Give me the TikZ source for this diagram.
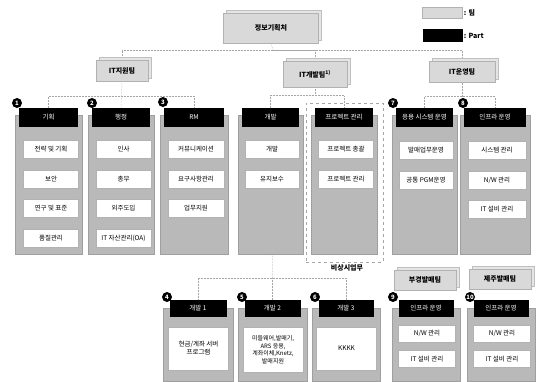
\documentclass[tikz,border=0pt]{standalone}
\usepackage{fontspec}
\setmainfont{Noto Sans CJK KR}
\usetikzlibrary{positioning,shadows,backgrounds}

\tikzset{
  team/.style={draw=gray!60, fill=gray!30, font=\fontsize{7}{8}\selectfont\bfseries,
    minimum height=21pt, inner sep=1pt,
    copy shadow={shadow xshift=3pt, shadow yshift=3pt, fill=gray!20, draw=gray!50}},
  part/.style={fill=black, text=white, font=\fontsize{6.5}{7.5}\selectfont,
    minimum height=19pt, inner sep=1pt},
  panel/.style={fill=gray!55, draw=gray!75, inner sep=0pt},
  task/.style={fill=white, draw=gray!60, font=\fontsize{6.5}{8}\selectfont,
    minimum height=18pt, inner sep=1pt, align=center},
  num/.style={circle, fill=black, text=white, font=\fontsize{6}{6}\selectfont\bfseries,
    inner sep=0pt, minimum size=10pt},
  conn/.style={densely dotted, gray!70, line width=0.5pt},
}

\begin{document}
\begin{tikzpicture}[x=1pt,y=-1pt]
\useasboundingbox (0,0) rectangle (540,381);

% teams
\node[team, minimum width=95pt, minimum height=30pt] (top) at (271,28) {정보기획처};
\node[team, minimum width=52pt] (sup) at (122,71) {IT지원팀};
\node[team, minimum width=64pt, minimum height=26pt] (dev) at (315,74) {IT개발팀\textsuperscript{1)}};
\node[team, minimum width=66pt] (ops) at (462,72) {IT운영팀};
\node[team, minimum width=62pt, minimum height=20pt] (busan) at (425,280) {부경발매팀};
\node[team, minimum width=62pt, minimum height=20pt] (jeju) at (500,279) {제주발매팀};

% legend
\node[fill=gray!30, draw=gray!60, minimum width=40pt, minimum height=11pt] (lg1) at (442.5,13) {};
\node[right, font=\fontsize{7}{8}\selectfont\bfseries, inner sep=1pt] at (lg1.east) {: 팀};
\node[fill=black, minimum width=40pt, minimum height=13pt] (lg2) at (442.5,35.5) {};
\node[right, font=\fontsize{7}{8}\selectfont\bfseries, inner sep=1pt] at (lg2.east) {: Part};

% parts, upper row
\foreach \c/\x/\w/\hd in {1/48.5/67/기획, 2/121/66/행정, 3/194/68/RM, 4/270.5/65/개발,
    5/344/66/프로젝트 관리, 6/424.5/65/응용 시스템 운영, 7/495/70/인프라 운영} {
  \node[panel, minimum width=\w pt, minimum height=139pt, anchor=north] (p\c) at (\x,115) {};
  \node[part, minimum width=\w pt-8pt] (h\c) at (\x,117.5) {\hd};
}
\foreach \t [count=\i] in {전략 및 기획, 보안, 연구 및 표준, 품질관리}
  \node[task, minimum width=55pt] (t1-\i) at (51,120+29.5*\i) {\t};
\foreach \t [count=\i] in {인사, 총무, 외주도입, IT 자산관리(OA)}
  \node[task, minimum width=55pt] (t2-\i) at (123.5,120+29.5*\i) {\t};
\foreach \t [count=\i] in {커뮤니케이션, 요구사항관리, 업무지원}
  \node[task, minimum width=56pt] (t3-\i) at (196,120+29.5*\i) {\t};
\foreach \t [count=\i] in {개발, 유지보수}
  \node[task, minimum width=54pt] (t4-\i) at (272,120+29.5*\i) {\t};
\foreach \t [count=\i] in {프로젝트 총괄, 프로젝트 관리}
  \node[task, minimum width=55pt] (t5-\i) at (346,120+29.5*\i) {\t};
\foreach \t [count=\i] in {발매업무운영, 공통 PGM운영}
  \node[task, minimum width=54pt] (t6-\i) at (426,121+29.5*\i) {\t};
\foreach \t [count=\i] in {시스템 관리, N/W 관리, IT 설비 관리}
  \node[task, minimum width=58pt] (t7-\i) at (497,121+29.5*\i) {\t};

% emergency duties
\node[draw=gray!70, dashed, minimum width=77pt, minimum height=159pt] (emerg) at (344.5,182.5) {};
\node[font=\fontsize{7}{8}\selectfont\bfseries, inner sep=1pt] (emlbl) at (347,268) {비상시업무};

% parts, lower row
\foreach \c/\x/\w/\hd in {8/198/70/개발 1, 9/272.5/69/개발 2, 10/346/68/개발 3,
    11/426/68/인프라 운영, 12/501/68/인프라 운영} {
  \node[panel, minimum width=\w pt, minimum height=73pt, anchor=north] (p\c) at (\x,308) {};
  \node[part, minimum width=\w pt-13pt, minimum height=17pt] (h\c) at (\x,308) {\hd};
}
\node[task, minimum width=60pt, minimum height=43pt] (t8) at (198.5,348.5) {현금/계좌 서버\\프로그램};
\node[task, minimum width=60pt, minimum height=45pt, font=\fontsize{6}{7.5}\selectfont]
  (t9) at (273,349.5) {미들웨어,발매기,\\ARS 응용,\\계좌이체,Knetz,\\발매지원};
\node[task, minimum width=60pt, minimum height=43pt] (t10) at (346.5,348.5) {KKKK};
\foreach \t [count=\i] in {N/W 관리, IT 설비 관리} {
  \node[task, minimum width=57pt, minimum height=17pt] (t11-\i) at (427,308+25.5*\i) {\t};
  \node[task, minimum width=57pt, minimum height=17pt] (t12-\i) at (502,308+25.5*\i) {\t};
}

% numbers
\foreach \n/\x/\y in {1/17/103, 2/92/103, 3/163/102, 7/393/103, 8/463/103,
    4/167/297, 5/242/297, 6/315/297, 9/393/297, 10/470/297}
  \node[num] (n\n) at (\x,\y) {\n};

% connectors
\begin{pgfonlayer}{background}
\coordinate (bus) at (273,50);
\draw[conn] (top.south) -- (bus);
\draw[conn] (sup.north) |- (bus) -| (ops.north);
\draw[conn] (bus) -| (dev.north);
\coordinate (sb1) at (122,96);
\draw[conn] (sup.south) -- (h2.north);
\draw[conn] (h1.north) |- (sb1) -| (h3.north);
\coordinate (sb2) at ([yshift=-8pt]dev.south);
\draw[conn] (dev.south) -- (sb2);
\draw[conn] (h4.north) |- (sb2) -| (h5.north);
\coordinate (sb3) at (272.5,278);
\draw[conn] (h4.north) -- (sb3);
\draw[conn] (h8.north) |- (sb3) -| (h10.north);
\draw[conn] (sb3) -- (h9.north);
\coordinate (sb4) at ([yshift=-14pt]ops.south);
\draw[conn] (ops.south) -- (sb4);
\draw[conn] (h6.north) |- (sb4) -| (h7.north);
\end{pgfonlayer}
\end{tikzpicture}
\end{document}
